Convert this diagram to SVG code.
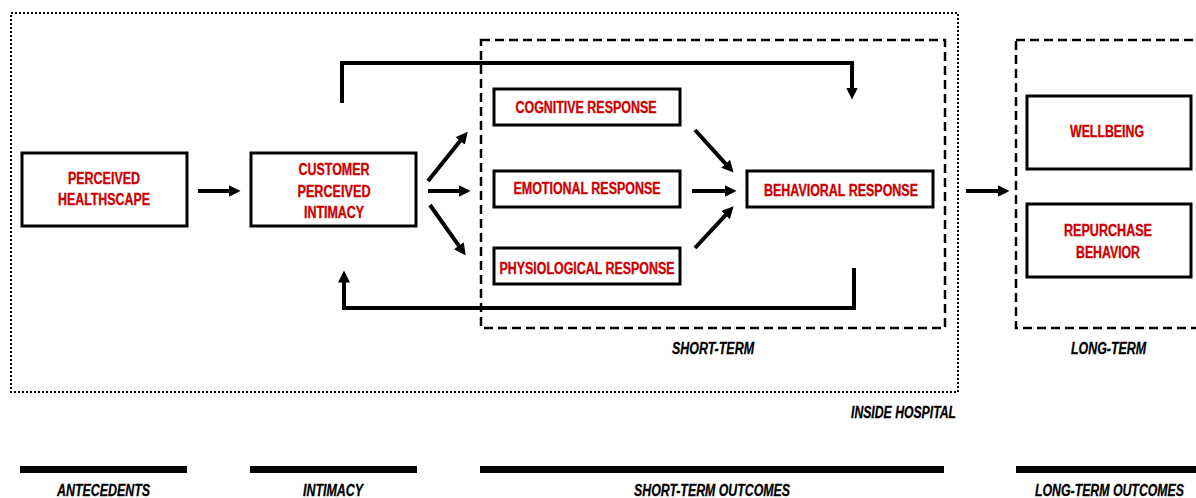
<svg xmlns="http://www.w3.org/2000/svg" width="1196" height="498" viewBox="0 0 1196 498">
<style>
.box{fill:#fff;stroke:#000;stroke-width:3}
.nt{font-family:"Liberation Sans",Arial,sans-serif;font-weight:bold;font-size:16px;fill:#cc0000;stroke:#cc0000;stroke-width:0.35;text-anchor:middle}
.lb{font-family:"Liberation Sans",Arial,sans-serif;font-weight:bold;font-style:italic;font-size:16px;fill:#000;stroke:#000;stroke-width:0.3}
.dash{fill:none;stroke:#000;stroke-width:2.5;stroke-dasharray:9 5}
.dot{fill:none;stroke:#000;stroke-width:2;stroke-dasharray:2 2}
.con{fill:none;stroke:#000;stroke-width:4;marker-end:url(#ah)}
.bar{fill:#000}
</style>
<defs>
<marker id="ah" viewBox="0 0 12 12" refX="0.5" refY="6" markerWidth="12" markerHeight="12" markerUnits="userSpaceOnUse" orient="auto">
<path d="M0,0 L12,6 L0,12 Z" fill="#000"/>
</marker>
</defs>
<rect width="1196" height="498" fill="#fff"/>

<g id="groups">
<rect class="dot" x="11" y="13" width="947" height="379"/>
<rect class="dash" x="481" y="40" width="464" height="288"/>
<rect class="dash" x="1016" y="40" width="200" height="288"/>
<text class="lb" x="672" y="354" textLength="82" lengthAdjust="spacingAndGlyphs">SHORT-TERM</text>
<text class="lb" x="1071" y="354" textLength="75" lengthAdjust="spacingAndGlyphs">LONG-TERM</text>
<text class="lb" x="851" y="418" textLength="105" lengthAdjust="spacingAndGlyphs">INSIDE HOSPITAL</text>
</g>

<g id="connectors">
<path class="con" d="M198,191 H229"/>
<path class="con" d="M428,181 L460.5,140.6"/>
<path class="con" d="M428,191 H459"/>
<path class="con" d="M430,205 L459.1,246.2"/>
<path class="con" d="M695,130 L725.9,164.1"/>
<path class="con" d="M692,191 H725"/>
<path class="con" d="M695,248 L725.8,214.8"/>
<path class="con" d="M342,103 V63 H852 V88"/>
<path class="con" d="M854,268 V308 H344 V282"/>
<path class="con" d="M966,191 H998"/>
</g>

<g id="n-healthscape">
<rect class="box" x="22" y="153" width="165" height="73"/>
<text class="nt" x="104" y="184" textLength="72" lengthAdjust="spacingAndGlyphs">PERCEIVED</text>
<text class="nt" x="104" y="205" textLength="92" lengthAdjust="spacingAndGlyphs">HEALTHSCAPE</text>
</g>
<g id="n-intimacy">
<rect class="box" x="251" y="153" width="165" height="73"/>
<text class="nt" x="334" y="175" textLength="71" lengthAdjust="spacingAndGlyphs">CUSTOMER</text>
<text class="nt" x="334" y="197" textLength="73" lengthAdjust="spacingAndGlyphs">PERCEIVED</text>
<text class="nt" x="334" y="218" textLength="60" lengthAdjust="spacingAndGlyphs">INTIMACY</text>
</g>
<g id="n-cognitive">
<rect class="box" x="494" y="89" width="186" height="36"/>
<text class="nt" x="586" y="113" textLength="141" lengthAdjust="spacingAndGlyphs">COGNITIVE RESPONSE</text>
</g>
<g id="n-emotional">
<rect class="box" x="494" y="171" width="186" height="36"/>
<text class="nt" x="587" y="194" textLength="147" lengthAdjust="spacingAndGlyphs">EMOTIONAL RESPONSE</text>
</g>
<g id="n-physiological">
<rect class="box" x="494" y="248" width="186" height="36"/>
<text class="nt" x="587" y="274" textLength="175" lengthAdjust="spacingAndGlyphs">PHYSIOLOGICAL RESPONSE</text>
</g>
<g id="n-behavioral">
<rect class="box" x="747" y="171" width="186" height="36"/>
<text class="nt" x="841" y="196" textLength="154" lengthAdjust="spacingAndGlyphs">BEHAVIORAL RESPONSE</text>
</g>
<g id="n-wellbeing">
<rect class="box" x="1027" y="96" width="164" height="73"/>
<text class="nt" x="1107" y="137" textLength="74" lengthAdjust="spacingAndGlyphs">WELLBEING</text>
</g>
<g id="n-repurchase">
<rect class="box" x="1027" y="204" width="164" height="73"/>
<text class="nt" x="1108" y="236" textLength="88" lengthAdjust="spacingAndGlyphs">REPURCHASE</text>
<text class="nt" x="1108" y="258" textLength="64" lengthAdjust="spacingAndGlyphs">BEHAVIOR</text>
</g>

<g id="timeline">
<rect class="bar" x="20" y="466" width="167" height="7"/>
<rect class="bar" x="250" y="466" width="167" height="7"/>
<rect class="bar" x="480" y="466" width="464" height="7"/>
<rect class="bar" x="1016" y="466" width="180" height="7"/>
<text class="lb" x="57" y="496" textLength="93" lengthAdjust="spacingAndGlyphs">ANTECEDENTS</text>
<text class="lb" x="303" y="496" textLength="60" lengthAdjust="spacingAndGlyphs">INTIMACY</text>
<text class="lb" x="634" y="496" textLength="156" lengthAdjust="spacingAndGlyphs">SHORT-TERM OUTCOMES</text>
<text class="lb" x="1035" y="496" textLength="149" lengthAdjust="spacingAndGlyphs">LONG-TERM OUTCOMES</text>
</g>
</svg>
